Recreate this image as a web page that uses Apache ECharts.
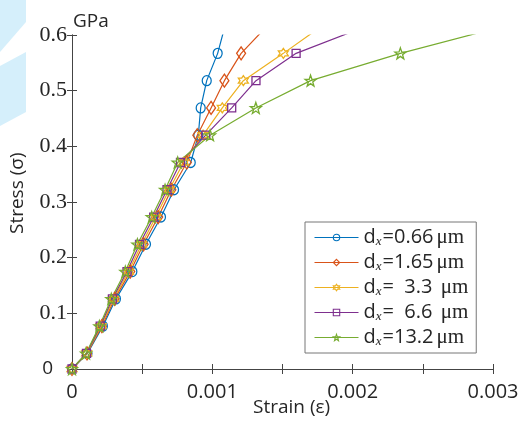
<!DOCTYPE html>
<html>
<head>
<meta charset="utf-8">
<script src="https://cdn.jsdelivr.net/npm/echarts@6/dist/echarts.min.js"></script>
<style>
  html, body { margin: 0; padding: 0; background: #fff; }
  #chart { width: 526px; height: 422px; }
</style>
</head>
<body>
<div id="chart"></div>
<script>
// Stress levels shared by every curve (GPa)
const stress = [0, 0.028, 0.077, 0.126, 0.175, 0.224, 0.273, 0.322, 0.371, 0.420, 0.469, 0.518, 0.567, 0.616];

// Strain at each stress level, one list per grain size
const strain066 = [0, 0.000110, 0.000220, 0.000313, 0.000430, 0.000527, 0.000634, 0.000727, 0.000846, 0.000900, 0.000917, 0.000960, 0.001038, 0.001090];
const strain165 = [0, 0.000107, 0.000213, 0.000304, 0.000415, 0.000510, 0.000614, 0.000708, 0.000818, 0.000893, 0.000991, 0.001086, 0.001205, 0.001390];
const strain33  = [0, 0.000105, 0.000207, 0.000296, 0.000403, 0.000496, 0.000597, 0.000692, 0.000795, 0.000934, 0.001071, 0.001221, 0.001506, 0.001780];
const strain66  = [0, 0.000103, 0.000201, 0.000288, 0.000392, 0.000481, 0.000582, 0.000677, 0.000773, 0.000953, 0.001138, 0.001311, 0.001597, 0.002100];
const strain132 = [0, 0.000100, 0.000195, 0.000280, 0.000380, 0.000466, 0.000568, 0.000663, 0.000753, 0.000984, 0.001310, 0.001700, 0.002340, 0.003080];

// Legend pieces: grain size text and unit spacing
const seriesNames = ['0.66', '1.65', '3.3', '6.6', '13.2'];
const legendValues = ['=0.66', '=1.65', '=  3.3 ', '=  6.6 ', '=13.2'];

// Axis ranges and ticks
const xMin = 0, xMax = 0.003, xTick = 0.0005;
const yMin = 0, yMax = 0.6, yTick = 0.1;

const colors = ['#0072BD', '#D95319', '#EDB120', '#7E2F8E', '#77AC30'];
const strains = [strain066, strain165, strain33, strain66, strain132];

const hexagram = 'path://M0,-10 L2.89,-5 L8.66,-5 L5.77,0 L8.66,5 L2.89,5 L0,10 L-2.89,5 L-8.66,5 L-5.77,0 L-8.66,-5 L-2.89,-5 Z';
const pentagram = 'path://M0,-10 L2.35,-3.24 L9.51,-3.09 L3.8,1.24 L5.88,8.09 L0,4 L-5.88,8.09 L-3.8,1.24 L-9.51,-3.09 L-2.35,-3.24 Z';
const symbols = ['circle', 'diamond', hexagram, 'rect', pentagram];
const symbolSizes = [[9, 10], [9, 13], 10, 8, 11];

const SANS = '"Open Sans", "Noto Sans", sans-serif';
const SERIF = '"Liberation Serif", "DejaVu Serif", serif';
const INK = '#262626';
const HOLLOW = 'rgba(255,255,255,0)';

const chart = echarts.init(document.getElementById('chart'), null, { renderer: 'canvas' });

const series = seriesNames.map((n, i) => ({
  name: n,
  type: 'line',
  data: strains[i].map((e, k) => [e, stress[k]]),
  symbol: symbols[i],
  symbolSize: symbolSizes[i],
  showAllSymbol: true,
  clip: true,
  lineStyle: { color: colors[i], width: 1.2 },
  itemStyle: { color: HOLLOW, borderColor: colors[i], borderWidth: 1.3 },
  emphasis: { disabled: true },
  animation: false
}));

const isLabelStep = v => Math.abs(v * 1000 - Math.round(v * 1000)) < 1e-6;

chart.setOption({
  backgroundColor: '#fff',
  animation: false,
  grid: { left: 72, right: 33, top: 35, bottom: 53, containLabel: false },
  xAxis: [
    {
      type: 'value', min: xMin, max: xMax, interval: xTick, position: 'bottom',
      axisLine: { show: true, lineStyle: { color: '#444', width: 1 } },
      axisTick: { show: true, inside: true, length: 5, lineStyle: { color: '#444' } },
      splitLine: { show: false },
      axisLabel: {
        margin: 13, color: INK, fontFamily: SANS, fontSize: 20, showMaxLabel: true, showMinLabel: true,
        formatter: v => isLabelStep(v) ? (v === 0 ? '0' : v.toFixed(3)) : ''
      }
    },
    {
      type: 'value', min: xMin, max: xMax, interval: xTick, position: 'top',
      axisLine: { show: true, lineStyle: { color: '#444', width: 1 } },
      axisTick: { show: true, inside: true, length: 5, lineStyle: { color: '#444' } },
      splitLine: { show: false }, axisLabel: { show: false }
    }
  ],
  yAxis: [
    {
      type: 'value', min: yMin, max: yMax, interval: yTick, position: 'left',
      axisLine: { show: true, lineStyle: { color: '#444', width: 1 } },
      axisTick: { show: true, inside: true, length: 5, lineStyle: { color: '#444' } },
      splitLine: { show: false },
      axisLabel: {
        margin: 5, color: INK, fontFamily: SERIF, fontSize: 22,
        formatter: v => v === 0 ? '{s|0}' : v.toFixed(1),
        rich: { s: { fontFamily: SANS, fontSize: 19, color: INK, padding: [0, 14, 0, 0] } }
      }
    },
    {
      type: 'value', min: yMin, max: yMax, interval: yTick, position: 'right',
      axisLine: { show: true, lineStyle: { color: '#444', width: 1 } },
      axisTick: { show: true, inside: true, length: 5, lineStyle: { color: '#444' } },
      splitLine: { show: false }, axisLabel: { show: false }
    }
  ],
  legend: {
    orient: 'vertical',
    left: 305, top: 222,
    padding: [5, 8, 5, 9],
    itemGap: 4,
    itemWidth: 44, itemHeight: 8,
    backgroundColor: '#fff',
    borderColor: '#777', borderWidth: 1,
    selectedMode: false,
    lineStyle: { width: 1 },
    data: seriesNames.map((n, i) => ({
      name: n,
      itemStyle: { color: HOLLOW, borderColor: colors[i], borderWidth: 1.1 },
      lineStyle: { color: colors[i], width: 1 }
    })),
    formatter: name => {
      const i = seriesNames.indexOf(name);
      return '{d|d}{x|x}{t|' + legendValues[i] + '}{u|μm}';
    },
    textStyle: {
      color: INK, fontFamily: SANS, fontSize: 20,
      rich: {
        d: { fontFamily: SANS, fontSize: 20, color: INK, lineHeight: 21 },
        x: { fontFamily: SERIF, fontStyle: 'italic', fontSize: 13, color: INK, verticalAlign: 'bottom', padding: [7, 1, 0, 0] },
        t: { fontFamily: SANS, fontSize: 20, color: INK },
        u: { fontFamily: SERIF, fontSize: 21, color: INK, padding: [0, 0, 0, 3] }
      }
    }
  },
  graphic: [
    { type: 'polygon', z: -10, silent: true, shape: { points: [[0, 0], [26, 0], [26, 22], [0, 52]] }, style: { fill: '#d5effb' } },
    { type: 'polygon', z: -10, silent: true, shape: { points: [[0, 66], [26, 52], [26, 112], [0, 126]] }, style: { fill: '#d5effb' } },
    { type: 'text', left: 73, top: 12, silent: true, style: { text: 'GPa', font: '19px ' + SANS, fill: INK } },
    { type: 'text', left: 253, top: 398, silent: true, style: { text: 'Strain (ε)', font: '19px ' + SANS, fill: INK } },
    { type: 'text', x: 8, y: 234, rotation: Math.PI / 2, silent: true,
      style: { text: 'Stress (σ)', font: '19px ' + SANS, fill: INK } }
  ],
  series: series
});
</script>
</body>
</html>
